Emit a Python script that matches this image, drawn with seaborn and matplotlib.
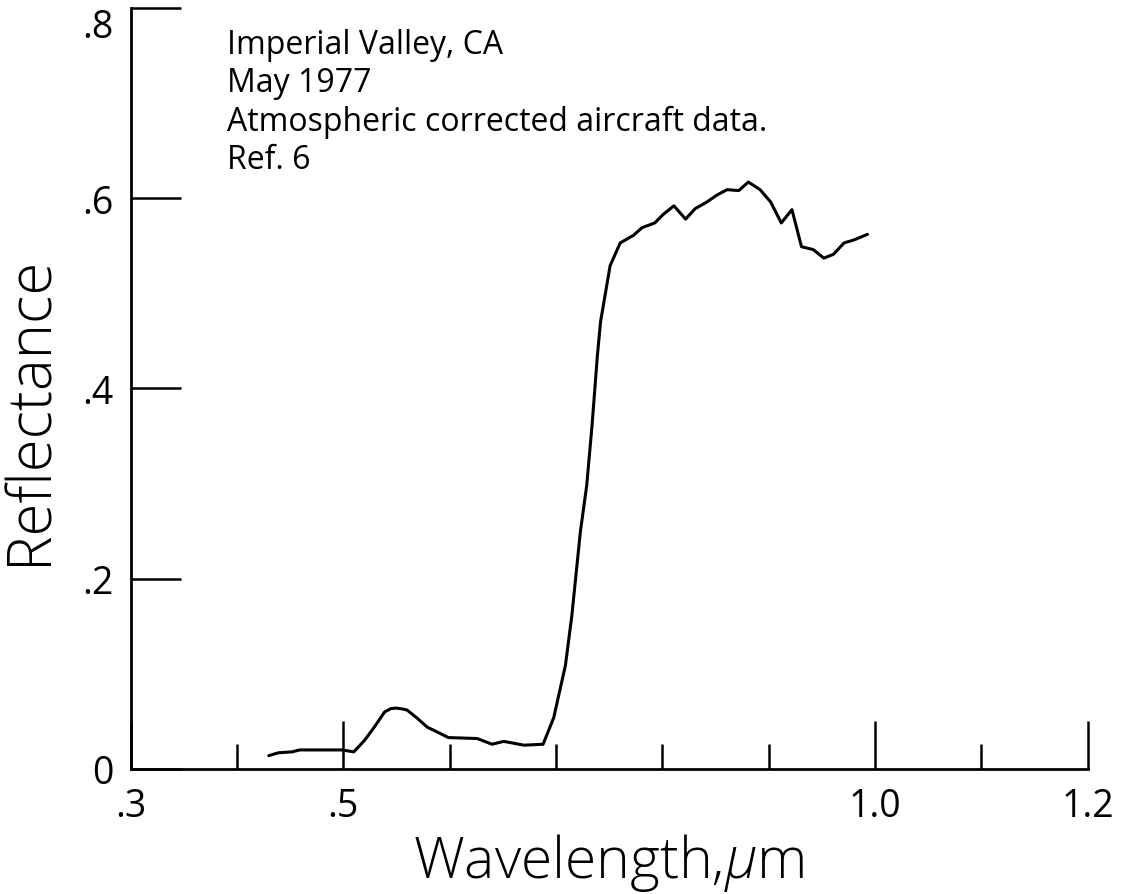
import matplotlib
matplotlib.use("Agg")
import matplotlib.pyplot as plt
from matplotlib.ticker import FixedLocator, FixedFormatter
import seaborn as sns
import pandas as pd

# Spectral reflectance curve (wavelength in micrometres)
wavelength = [0.430, 0.439, 0.452, 0.459, 0.480, 0.499, 0.510, 0.520, 0.528,
              0.539, 0.545, 0.550, 0.556, 0.560, 0.570, 0.579, 0.590, 0.599,
              0.626, 0.640, 0.651, 0.670, 0.688, 0.698, 0.709, 0.715, 0.723,
              0.729, 0.734, 0.739, 0.742, 0.751, 0.7605, 0.773, 0.781, 0.793,
              0.801, 0.811, 0.822, 0.831, 0.842, 0.851, 0.861, 0.872, 0.881,
              0.892, 0.902, 0.912, 0.922, 0.931, 0.942, 0.952, 0.961, 0.971,
              0.980, 0.993]
reflectance = [0.014, 0.017, 0.018, 0.020, 0.020, 0.020, 0.018, 0.030, 0.042,
               0.060, 0.0635, 0.064, 0.063, 0.062, 0.053, 0.044, 0.038, 0.033,
               0.032, 0.026, 0.029, 0.025, 0.026, 0.054, 0.109, 0.161, 0.249,
               0.298, 0.361, 0.434, 0.470, 0.529, 0.553, 0.561, 0.569, 0.574,
               0.583, 0.592, 0.578, 0.589, 0.596, 0.603, 0.609, 0.608, 0.617,
               0.609, 0.596, 0.574, 0.588, 0.549, 0.546, 0.537, 0.541, 0.553,
               0.556, 0.562]

x_major = [0.3, 0.5, 1.0, 1.2]
x_major_labels = [".3", ".5", "1.0", "1.2"]
x_minor = [0.4, 0.6, 0.7, 0.8, 0.9, 1.1]
y_major = [0.0, 0.2, 0.4, 0.6, 0.8]
y_major_labels = ["0", ".2", ".4", ".6", ".8"]
note_lines = ["Imperial Valley, CA", "May 1977",
              "Atmospheric corrected aircraft data.", "Ref. 6"]

sns.set_style("ticks", {"text.color": "black", "axes.labelcolor": "black",
                        "xtick.color": "black", "ytick.color": "black",
                        "axes.edgecolor": "black"})
plt.rcParams["font.family"] = ["Open Sans", "DejaVu Sans"]
plt.rcParams["font.weight"] = "normal"
plt.rcParams["axes.labelweight"] = "light"
plt.rcParams["mathtext.fontset"] = "custom"
plt.rcParams["mathtext.it"] = "Open Sans:italic:light"
plt.rcParams["mathtext.rm"] = "Open Sans:light"

fig = plt.figure(figsize=(11.29, 8.95), dpi=100)
ax = fig.add_axes([0.1156, 0.1397, 0.8477, 0.8503])

df = pd.DataFrame({"Wavelength": wavelength, "Reflectance": reflectance})
sns.lineplot(data=df, x="Wavelength", y="Reflectance", ax=ax,
             color="black", linewidth=2.2)

ax.set_xlim(0.3, 1.2)
ax.set_ylim(0, 0.8)
sns.despine(ax=ax)
for side in ("left", "bottom"):
    ax.spines[side].set_linewidth(2.0)

ax.xaxis.set_major_locator(FixedLocator(x_major))
ax.xaxis.set_major_formatter(FixedFormatter(x_major_labels))
ax.xaxis.set_minor_locator(FixedLocator(x_minor))
ax.yaxis.set_major_locator(FixedLocator(y_major))
ax.yaxis.set_major_formatter(FixedFormatter(y_major_labels))

ax.tick_params(axis="x", which="major", bottom=True, direction="in",
               length=34.5, width=1.8, pad=13, labelsize=27)
ax.tick_params(axis="x", which="minor", bottom=True, direction="in",
               length=18, width=1.8)
ax.tick_params(axis="y", which="major", left=True, direction="in",
               length=36, width=1.8, pad=12, labelsize=27)
ax.tick_params(axis="y", which="minor", left=False)

# keep the top label inside the figure
fig.canvas.draw()
ax.get_yticklabels()[-1].set_verticalalignment("top")

ax.set_xlabel("Wavelength,$\\mu$m", fontsize=41, labelpad=4)
ax.set_ylabel("Reflectance", fontsize=43)
ax.yaxis.set_label_coords(-0.072, 0.472)

ax.text(0.1008, 0.974, "\n".join(note_lines), transform=ax.transAxes,
        ha="left", va="top", fontsize=23, linespacing=1.21)

fig.savefig("out.png", dpi=100, facecolor="white")
